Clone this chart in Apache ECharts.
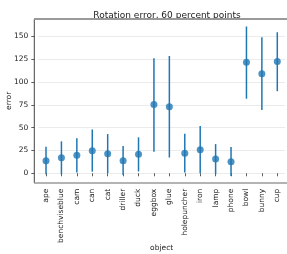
<!DOCTYPE html>
<html lang="en">
<head>
<meta charset="UTF-8">
<script src="https://cdn.jsdelivr.net/npm/echarts@6/dist/echarts.min.js"></script>
<title>Rotation error</title>
<style>html,body{margin:0;padding:0;background:#fff}</style>
</head>
<body>
<div id="chart" style="width:287px;height:254px;"></div>
<script type="text/javascript">
// 类别与数据
var objects = ['ape','benchviseblue','cam','can','cat','driller','duck','eggbox','glue','holepuncher','iron','lamp','phone','bowl','bunny','cup'];
var meanErr = [13.7, 17, 19.7, 24.8, 21.5, 13.8, 20.8, 75.3, 73, 21.9, 25.9, 15.6, 12.7, 121.5, 109, 122.4];
var lowErr  = [-1, -1, 1, 1.8, 0, -2, 2, 23.7, 17.3, 0.8, 0, -1, -3, 81.7, 69.3, 89.9];
var highErr = [29, 35, 38.3, 48, 43, 30, 39.4, 126, 128.5, 43.4, 51.8, 32, 28.7, 160.8, 149, 154.5];
var yTicks = [0, 25, 50, 75, 100, 125, 150];

var chart = echarts.init(document.getElementById('chart'));
var font = 'DejaVu Sans';
var blue = '#1f77b4';

var barData = [];
for (var i = 0; i < objects.length; i++) {
    barData.push([i, lowErr[i], highErr[i]]);
}

var option = {
    animation: false,
    textStyle: {fontFamily: font},
    title: {
        text: 'Rotation error, 60 percent points',
        left: 162, top: 6, textAlign: 'center',
        textStyle: {fontFamily: font, fontSize: 9, fontWeight: 'normal', color: '#222'}
    },
    grid: {left: 38.3, right: 2, top: 19, bottom: 71.3, outerBoundsMode: 'none', containLabel: false},
    xAxis: {
        type: 'category',
        data: objects,
        name: 'object',
        nameLocation: 'middle',
        nameGap: 61,
        nameMoveOverlap: false,
        nameTextStyle: {fontFamily: font, fontSize: 7.5, color: '#222'},
        axisLine: {show: false},
        axisTick: {show: true, alignWithLabel: true, length: 3, lineStyle: {color: '#333', width: 0.8}},
        axisLabel: {rotate: 90, fontSize: 7.5, color: '#222', margin: 6, interval: 0, fontFamily: font},
        splitLine: {show: false}
    },
    yAxis: {
        type: 'value',
        min: -10.3, max: 169,
        offset: 4,
        name: 'error',
        nameLocation: 'middle',
        nameGap: 21,
        nameMoveOverlap: false,
        nameTextStyle: {fontFamily: font, fontSize: 7.5, color: '#222'},
        axisLine: {show: false},
        axisTick: {show: true, length: 3, customValues: yTicks, lineStyle: {color: '#333', width: 0.8}},
        axisLabel: {fontSize: 7.5, color: '#222', margin: 6, customValues: yTicks, fontFamily: font},
        splitLine: {show: true, lineStyle: {color: '#e6e6e6', width: 0.8}}
    },
    graphic: [
        // spines
        {type: 'line', shape: {x1: 34.3, y1: 19, x2: 34.3, y2: 183}, style: {stroke: '#444', lineWidth: 1}, z: 10},
        {type: 'line', shape: {x1: 34, y1: 19, x2: 287, y2: 19}, style: {stroke: '#9a9a9a', lineWidth: 2}, z: 10},
        {type: 'line', shape: {x1: 34, y1: 183, x2: 287, y2: 183}, style: {stroke: '#9a9a9a', lineWidth: 1.6}, z: 10}
    ],
    series: [
        {
            type: 'custom',
            data: barData,
            renderItem: function (params, api) {
                var p1 = api.coord([api.value(0), api.value(1)]);
                var p2 = api.coord([api.value(0), api.value(2)]);
                return {
                    type: 'line',
                    shape: {x1: p1[0], y1: p1[1], x2: p2[0], y2: p2[1]},
                    style: {stroke: blue, lineWidth: 1.5}
                };
            },
            z: 2
        },
        {
            type: 'scatter',
            data: meanErr,
            symbol: 'circle',
            symbolSize: 7,
            itemStyle: {color: blue},
            z: 3
        }
    ]
};
chart.setOption(option);
</script>
</body>
</html>
